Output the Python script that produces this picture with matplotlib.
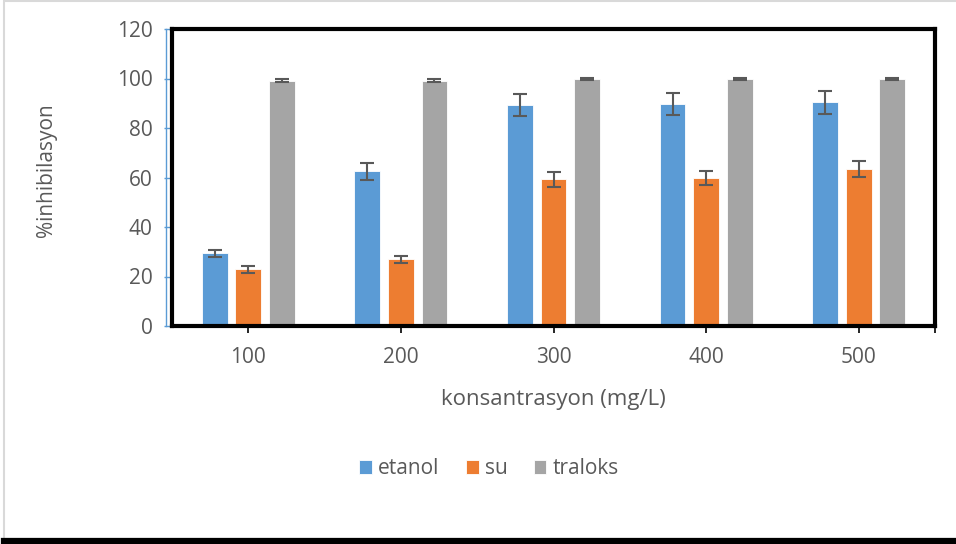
import matplotlib.pyplot as plt
import matplotlib.lines as mlines
import matplotlib.patches as mpatches
import numpy as np

plt.rcParams["font.family"] = ["Open Sans", "DejaVu Sans"]

# data
concentrations = ["100", "200", "300", "400", "500"]
etanol = [29.4, 62.5, 89.3, 89.8, 90.4]
etanol_err = [1.5, 3.4, 4.5, 4.4, 4.6]
su = [22.9, 27.0, 59.3, 59.8, 63.4]
su_err = [1.3, 1.4, 3.0, 3.0, 3.1]
traloks = [99.0, 99.0, 99.7, 99.7, 99.7]
traloks_err = [0.6, 0.6, 0.5, 0.5, 0.5]

series = [
    ("etanol", etanol, etanol_err, "#5B9BD5"),
    ("su", su, su_err, "#ED7D31"),
    ("traloks", traloks, traloks_err, "#A5A5A5"),
]

text_color = "#595959"

fig = plt.figure(figsize=(9.56, 5.44), dpi=100)
ax = fig.add_axes([172 / 956, 1 - 326 / 544, (935 - 172) / 956, (326 - 29) / 544])

x = np.arange(len(concentrations))
width = 0.17
offsets = [-0.22, 0.0, 0.22]

for (label, vals, errs, color), off in zip(series, offsets):
    ax.bar(
        x + off,
        vals,
        width=width,
        color=color,
        edgecolor="white",
        linewidth=0.6,
        label=label,
        zorder=2,
    )
    ax.errorbar(
        x + off,
        vals,
        yerr=errs,
        fmt="none",
        ecolor="#595959",
        elinewidth=1.5,
        capsize=5,
        capthick=1.5,
        zorder=3,
    )

ax.set_xlim(-0.5, 4.5)
ax.set_ylim(0, 120)
ax.set_yticks(range(0, 121, 20))
ax.set_xticks(list(x) + [4.5])
ax.set_xticklabels(concentrations + [""])

# frame: thick black on all four sides
for side in ["top", "right", "left", "bottom"]:
    ax.spines[side].set_color("black")
    ax.spines[side].set_linewidth(3)

# thin blue value axis on the left
ax.add_line(
    mlines.Line2D([-0.008, -0.008], [0, 1], transform=ax.transAxes,
                  color="#5B9BD5", linewidth=1, clip_on=False, zorder=5)
)
ax.tick_params(axis="y", colors="#5B9BD5", length=6, width=1, labelsize=15,
               labelcolor=text_color, pad=8)
ax.tick_params(axis="x", colors="black", length=5, width=1.2, labelsize=15,
               labelcolor=text_color, pad=10)

ax.set_xlabel("konsantrasyon (mg/L)", fontsize=16, color=text_color, labelpad=15)
fig.text(47 / 956, 1 - 170 / 544, "%inhibilasyon", rotation=90, fontsize=15,
         color=text_color, ha="center", va="center")

ax.legend(
    loc="center",
    bbox_to_anchor=(489 / 956, 1 - 469 / 544),
    bbox_transform=fig.transFigure,
    ncol=3,
    frameon=False,
    fontsize=15,
    handlelength=0.62,
    handleheight=0.68,
    handletextpad=0.3,
    columnspacing=1.25,
    labelcolor=text_color,
)

# outer chart frame: light gray border, thick black line at the bottom
fig.patches.append(
    mpatches.Rectangle((4 / 956, 4 / 544), 1.2, 1 - 5 / 544, transform=fig.transFigure,
                       fill=False, edgecolor="#D9D9D9", linewidth=1.5)
)
fig.add_artist(
    mlines.Line2D([4 / 956, 1], [3 / 544, 3 / 544], transform=fig.transFigure,
                  color="black", linewidth=4.5)
)

plt.savefig("out.png", dpi=100)
